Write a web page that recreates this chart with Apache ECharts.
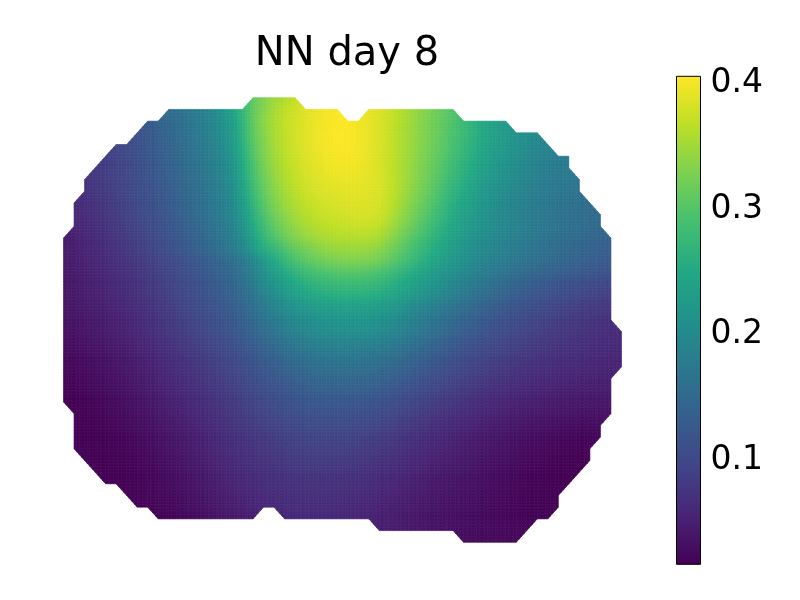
<!DOCTYPE html>
<html><head><meta charset="utf-8">
<style>html,body{margin:0;padding:0;background:#fff}#c{width:800px;height:600px}</style>
<script src="https://cdn.jsdelivr.net/npm/echarts@6/dist/echarts.min.js"></script>
</head><body><div id="c"></div>
<script>
const titleText = 'NN day 8';
const tickValues = [0.1, 0.2, 0.3, 0.4];
const colorMin = 0.0169, colorMax = 0.4057;
const viridis = ['#440154','#482475','#414487','#355f8d','#2a788e','#21918c','#22a884','#44bf70','#7ad151','#bddf26','#fde725'];
// first column of each row
const rowStart = [18,10,8,7,5,4,3,2,2,1,1,1,0,0,0,0,0,0,0,0,0,0,0,0,0,0,0,1,1,1,1,2,3,4,6,7,9,30,38];
// values in thousandths, one list per row
const cellValues = [
[310,328,345,358,368],
[150,160,170,182,195,212,238,272,310,333,352,366,377,386,394,400,403,null,null,392,385,375,362,350,338,325,312,300],
[128,137,147,157,167,180,193,208,232,268,310,337,355,369,379,388,396,401,404,405,400,393,385,374,361,349,336,323,310,296,280,265,250,238,228],
[114,123,133,143,153,165,177,190,205,228,265,307,334,354,368,379,388,396,402,405,405,400,393,385,373,360,348,335,322,309,294,279,264,248,236,226,217,208,200],
[95,103,112,121,130,139,149,160,172,185,200,223,260,302,331,352,367,378,387,395,401,404,405,400,393,385,373,360,347,334,320,306,290,275,260,245,232,222,212,203,195,190],
[87,94,102,110,119,128,137,147,157,168,180,195,218,254,297,327,349,364,376,385,393,399,402,403,399,392,384,372,359,346,332,318,303,286,270,255,240,227,217,208,199,190,184,180,177],
[80,86,93,100,108,117,126,135,145,155,166,178,192,213,248,291,322,345,361,373,383,390,396,398,399,397,391,384,372,358,344,330,315,299,281,265,250,235,223,212,204,196,187,181,177,174],
[74,79,85,91,98,106,114,123,132,142,152,163,175,188,208,242,285,316,340,357,369,379,386,391,393,395,394,390,385,373,358,343,328,312,294,275,259,244,228,218,208,199,191,184,178,174,171,168],
[72,77,83,89,96,104,112,120,129,139,149,160,172,185,204,236,278,310,335,352,365,375,382,386,388,390,390,388,384,372,356,340,324,307,287,268,252,238,222,212,203,195,187,180,175,171,167,163],
[62,68,74,80,86,94,102,110,118,126,136,146,157,169,181,199,230,270,303,328,346,359,369,376,381,384,386,387,386,382,369,352,335,318,300,280,261,245,232,217,207,198,190,183,176,171,167,163,159,155],
[58,64,70,76,83,90,98,106,114,122,132,142,153,165,177,194,222,260,293,319,338,352,362,369,374,378,380,382,382,378,364,346,328,310,291,272,253,238,226,212,203,195,187,180,174,168,163,159,155,151,148],
[55,61,67,73,79,87,94,102,110,118,127,137,148,159,172,188,213,249,281,308,327,342,353,361,367,370,372,374,373,368,354,336,318,300,281,263,246,232,220,210,203,196,189,182,175,169,164,159,155,151,147],
[45,51,57,63,69,76,83,90,98,106,115,123,132,143,154,166,182,205,238,270,295,316,331,342,350,356,359,360,361,360,354,340,323,305,288,270,254,238,225,213,204,197,190,183,176,169,163,158,153,149,145,141,137],
[43,49,54,60,66,72,79,86,93,101,110,119,128,138,148,160,175,195,225,255,272,292,310,322,332,341,344,345,346,344,337,324,308,291,275,258,243,229,217,206,197,190,183,176,169,163,157,152,147,143,138,134,130],
[42,47,52,57,62,67,73,79,86,93,100,108,116,124,133,142,155,170,193,220,247,271,290,304,314,321,326,329,329,327,320,308,293,278,263,247,233,220,209,199,190,183,177,170,163,157,151,146,141,137,132,128,124],
[41,45,50,54,59,64,70,76,82,89,96,104,112,120,128,137,149,164,185,209,230,250,266,279,288,294,298,300,300,297,291,281,269,256,243,230,218,207,197,187,178,170,162,155,148,142,137,132,128,124,120,116,112],
[40,44,48,52,56,61,66,72,78,85,92,99,107,115,123,131,142,156,176,198,215,233,248,260,268,273,277,279,278,276,271,262,251,240,229,218,206,195,184,174,165,156,148,141,134,128,122,117,112,108,104,100,96],
[38,42,46,50,54,58,63,69,75,81,88,95,102,110,118,126,136,148,165,183,201,217,231,241,248,253,256,258,258,256,252,244,234,224,214,204,192,181,170,160,151,143,135,128,122,116,111,106,101,97,93,89,86],
[37,40,44,47,51,55,60,65,71,77,84,91,98,105,113,121,130,141,156,172,188,201,212,220,226,230,232,233,233,231,227,220,211,201,192,182,172,162,153,144,135,128,121,115,109,104,99,94,90,86,82,79,76],
[35,38,41,45,48,52,57,62,68,74,81,87,94,101,108,116,125,135,148,162,176,188,198,206,211,215,217,218,218,216,212,206,198,188,178,169,159,150,141,133,125,118,112,106,101,96,91,87,83,79,76,73,70],
[32,35,38,41,45,49,53,58,64,70,76,82,89,96,103,110,119,129,140,153,165,177,187,195,201,205,207,208,208,207,203,196,188,179,170,160,150,141,132,124,117,110,104,98,93,88,84,80,76,73,70,67,64,62],
[29,32,35,38,41,45,49,54,60,65,71,77,83,90,97,103,111,120,130,141,152,162,171,178,184,187,189,190,189,187,183,177,170,162,153,144,135,127,119,112,106,100,95,90,86,82,78,75,72,70,67,65,63,61],
[26,28,31,34,37,41,45,50,55,61,67,72,78,84,91,97,104,112,121,131,140,149,157,164,169,172,173,174,173,171,167,162,155,147,139,131,123,116,109,102,97,92,88,84,80,76,73,70,68,66,64,62,60,58],
[23,25,28,31,34,38,42,46,51,57,62,68,73,79,85,91,98,105,113,122,130,138,145,151,155,158,159,159,158,156,153,147,141,134,127,119,112,105,99,93,88,84,80,76,72,69,66,64,62,60,58,56,55,53],
[20,22,25,28,31,34,38,42,47,53,58,63,68,74,80,86,92,99,106,114,121,128,134,139,143,145,146,146,145,143,139,134,128,122,115,108,102,96,90,85,80,76,72,68,65,62,60,58,56,54,52,51,50],
[18,20,22,25,28,31,35,39,44,49,54,59,64,69,75,81,87,93,100,107,113,119,124,129,132,134,134,134,133,130,127,122,116,110,104,98,92,86,81,76,72,68,64,61,58,55,53,51,49,48,47,46,45],
[17,18,20,22,25,28,32,36,40,45,50,55,60,65,71,76,82,88,94,100,106,111,116,120,122,123,123,122,121,118,115,110,105,99,93,88,83,78,73,68,64,60,57,54,51,49,47,45,44,43,42,41,41],
[17,18,20,22,25,29,32,36,41,46,50,55,61,66,72,77,83,89,94,100,104,108,111,113,113,113,112,110,108,104,99,94,89,84,78,73,68,64,60,56,53,50,47,44,42,40,39,37,36,35,35,36],
[18,18,18,20,23,26,29,33,37,42,46,51,56,62,68,73,78,83,88,93,97,100,103,104,104,104,103,101,98,95,90,85,80,75,70,65,61,57,53,49,46,43,40,37,35,33,31,29,28,27,28],
[19,18,18,19,21,23,26,30,34,38,42,47,52,58,64,69,74,78,82,86,90,93,95,96,96,95,94,92,89,86,82,77,72,68,63,59,55,51,47,44,41,38,35,32,30,28,26,24,23,22,24],
[20,18,17,18,19,21,24,27,31,35,39,44,49,55,60,65,69,73,77,81,84,87,89,90,89,88,87,85,82,79,75,71,66,62,58,54,50,46,43,40,37,34,31,28,26,24,22,20,19,19],
[18,17,17,18,20,22,25,28,32,36,41,46,52,57,62,66,70,73,76,79,82,83,84,83,82,80,78,76,73,69,65,61,57,53,49,46,42,39,36,33,31,28,25,23,21,19,18,17,17],
[19,18,17,19,21,23,26,30,34,38,43,49,54,59,63,66,69,72,74,77,78,78,77,76,74,72,70,67,63,60,56,52,48,45,42,39,36,33,30,28,25,23,21,19,18,17,17],
[19,18,19,20,22,25,28,31,35,40,45,50,55,59,63,65,68,70,72,73,73,72,71,69,67,65,62,58,55,51,48,44,41,38,36,33,30,28,26,23,21,19,18,17,17],
[19,20,22,24,26,29,33,37,42,47,51,55,59,62,64,66,68,69,69,68,67,65,63,61,58,55,51,48,45,41,38,36,33,31,29,26,24,22,20,19,18,18],
[19,20,22,24,27,31,35,40,44,48,52,56,59,61,63,64,65,65,64,63,61,59,57,54,51,48,45,42,39,36,34,32,30,28,26,24,22,20,19,18,19],
[19,20,22,25,29,34,39,43,47,50,null,null,60,61,62,62,61,60,58,56,54,51,49,46,43,40,37,35,33,31,29,27,25,24,22,21,20,19],
[48,46,44,41,39,36,34,32,30,28,27,25,24,23,22],
[29,27,26,25,24,23]
];

function value(i, j) {
  const row = cellValues[j];
  if (!row) return null;
  const v = row[i - rowStart[j]];
  return v == null ? null : v / 1000;
}
function viridisAt(v) {
  const t = Math.max(0, Math.min(1, (v - colorMin) / (colorMax - colorMin))) * (viridis.length - 1);
  const k = Math.min(viridis.length - 2, Math.floor(t));
  return echarts.color.lerp(t - k, [viridis[k], viridis[k + 1]]);
}
const meshCells = [];
for (let j = 0; j < cellValues.length - 1; j++) {
  for (let i = 0; i < 53; i++) {
    const n = [value(i, j), value(i + 1, j), value(i + 1, j + 1), value(i, j + 1)].filter(v => v != null).length;
    if (n >= 3) meshCells.push([i, j]);
  }
}
const SUB = 4;
function renderMesh(params, api) {
  const i = api.value(0), j = api.value(1);
  let a = value(i, j), b = value(i + 1, j), c = value(i + 1, j + 1), d = value(i, j + 1);
  // a triangle at the outline: keep only the part on the known side of its diagonal
  let inside = () => true;
  if (a == null) { a = b + d - c; inside = (u, v) => u + v >= 1 - 1e-6; }
  else if (b == null) { b = a + c - d; inside = (u, v) => v - u >= -1e-6; }
  else if (c == null) { c = b + d - a; inside = (u, v) => u + v <= 1 + 1e-6; }
  else if (d == null) { d = a + c - b; inside = (u, v) => u - v >= -1e-6; }
  const children = [];
  for (let q = 0; q < SUB; q++) {
    for (let p = 0; p < SUB; p++) {
      const uvs = [[p / SUB, q / SUB], [(p + 1) / SUB, q / SUB], [(p + 1) / SUB, (q + 1) / SUB], [p / SUB, (q + 1) / SUB]]
        .filter(w => inside(w[0], w[1]));
      if (uvs.length < 3) continue;
      const cu = uvs.reduce((s, w) => s + w[0], 0) / uvs.length;
      const cv = uvs.reduce((s, w) => s + w[1], 0) / uvs.length;
      const v = a * (1 - cu) * (1 - cv) + b * cu * (1 - cv) + c * cu * cv + d * (1 - cu) * cv;
      const col = viridisAt(v);
      children.push({ type: 'polygon', shape: { points: uvs.map(w => api.coord([i + w[0], j + w[1]])) },
        style: { fill: col, stroke: col, lineWidth: 0.6 } });
    }
  }
  return { type: 'group', children: children };
}
function renderBar(params, api) {
  const tl = api.coord([0, colorMax]), br = api.coord([1, colorMin]);
  const stops = viridis.map((col, k) => ({ offset: 1 - k / (viridis.length - 1), color: col }));
  return { type: 'rect', shape: { x: tl[0], y: tl[1], width: br[0] - tl[0], height: br[1] - tl[1] },
    style: { fill: new echarts.graphic.LinearGradient(0, 0, 0, 1, stops), stroke: '#000', lineWidth: 1 } };
}
const chart = echarts.init(document.getElementById('c'), null, { renderer: 'canvas' });
chart.setOption({
  animation: false,
  backgroundColor: '#fff',
  title: { text: titleText, left: 342, top: 30, textAlign: 'center',
    textStyle: { fontFamily: 'DejaVu Sans', fontSize: 40, fontWeight: 'normal', color: '#000' } },
  grid: [
    { left: 63.5, top: 97.7, width: 558, height: 444.6 },
    { left: 676.5, top: 76.3, width: 24, height: 488 }
  ],
  xAxis: [
    { gridIndex: 0, type: 'value', min: 0, max: 53, show: false },
    { gridIndex: 1, type: 'value', min: 0, max: 1, show: false }
  ],
  yAxis: [
    { gridIndex: 0, type: 'value', min: 0, max: 38, inverse: true, show: false },
    { gridIndex: 1, type: 'value', min: colorMin, max: colorMax, position: 'right',
      splitLine: { show: false }, axisLine: { show: false },
      axisTick: { show: true, length: 5, customValues: tickValues, lineStyle: { color: '#000', width: 1 } },
      axisLabel: { show: true, margin: 10, customValues: tickValues, color: '#000', fontFamily: 'DejaVu Sans', fontSize: 33,
        formatter: v => v.toFixed(1) } }
  ],
  series: [
    { type: 'custom', xAxisIndex: 0, yAxisIndex: 0, data: meshCells, renderItem: renderMesh, progressive: 0, silent: true },
    { type: 'custom', xAxisIndex: 1, yAxisIndex: 1, data: [[0, colorMin]], renderItem: renderBar, silent: true }
  ]
});
</script></body></html>
